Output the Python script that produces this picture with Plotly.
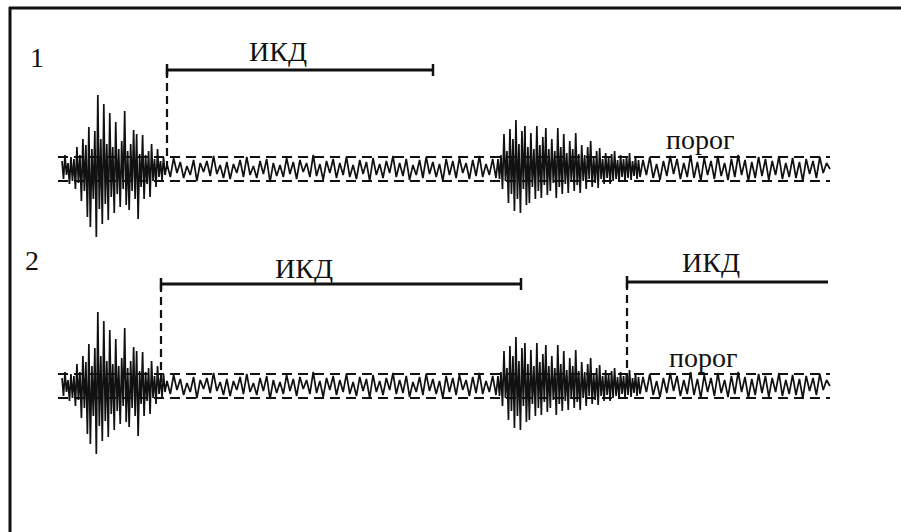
import plotly.graph_objects as go

# ---------------------------------------------------------------
# Recorded signal: time in ms, amplitude in µV relative to baseline.
# Bursts are given as per-oscillation peak (up) and trough (down)
# values; quiet stretches as successive turning points.
# ---------------------------------------------------------------
burst1_span = (62, 165)
burst1_up = [8, 14, 6, 12, 10, 22, 14, 30, 24, 42, 20, 38, 74, 30, 65, 25, 56, 22,
             47, 20, 28, 58, 18, 25, 39, 35, 15, 34, 14, 18, 25, 10, 20, 8, 12]
burst1_down = [-10, -6, -15, -12, -20, -14, -32, -22, -48, -58, -30, -68, -40, -55, -35,
               -51, -28, -44, -25, -38, -20, -36, -41, -22, -30, -50, -18, -30, -15, -28,
               -12, -18, -8, -11, -6]

quiet1_span = (167, 496)
quiet1 = [5, -8, 11, -4, 7, -9, 3, -6, 9, -12, 6, -3, 8, -7, 13, -5, 4, -9, 7, -10, 5,
          -4, 9, -8, 12, -6, 3, -9, 8, -5, 10, -13, 6, -7, 4, -8, 11, -5, 7, -10, 9, -3,
          6, -8, 14, -7, 5, -11, 8, -4, 10, -9, 6, -6, 12, -8, 4, -10, 9, -5, 7, -12, 11,
          -6, 5, -9, 8, -4, 13, -8, 6, -7, 10, -11, 4, -6, 9, -9, 12, -5, 7, -8, 5, -12,
          10, -6, 8, -9, 11, -4, 6, -10, 9, -7, 13, -8, 5, -6, 10, -9]

burst2_span = (498, 640)
burst2_up = [10, 14, 35, 18, 40, 30, 49, 25, 38, 43, 22, 36, 20, 43, 24, 32, 41, 20,
             30, 18, 41, 22, 35, 16, 28, 20, 36, 15, 24, 14, 22, 28, 12, 18, 21, 10,
             16, 12, 15, 18, 9, 14, 10, 13, 16, 8, 12, 9]
burst2_down = [-10, -20, -12, -34, -25, -42, -30, -44, -20, -36, -34, -18, -30, -22, -29,
               -16, -26, -22, -14, -29, -18, -25, -15, -24, -12, -22, -16, -24, -12, -20,
               -10, -18, -14, -19, -10, -15, -9, -15, -12, -10, -13, -8, -12, -9, -11,
               -7, -10, -8]

quiet2_span = (643, 830)
quiet2 = [9, -6, 12, -9, 5, -11, 8, -7, 13, -5, 10, -10, 6, -8, 14, -9, 7, -12, 11, -6,
          8, -10, 13, -7, 6, -11, 10, -8, 14, -6, 9, -12, 7, -9, 12, -7, 10, -11, 8, -6,
          13, -10, 6, -8, 11, -9, 7, -12, 10, -5, 8, -9, 12, -4, 6, 0]

threshold = 12          # µV, detection threshold (±)
threshold_span = (58, 830)

# Inter-burst intervals (ИКД) per record: start, end, closed end, label time
ikd_rec1 = [(167, 433, True, 278)]
ikd_rec2 = [(161, 521, True, 304), (627, 828, False, 711)]


def times(span, n):
    a, b = span
    return [a + (b - a) * i / (n - 1) for i in range(n)]


def interleave(up, down):
    out = []
    for u, d in zip(up, down):
        out += [u, d]
    return out


sig_t, sig_v = [], []
for span, vals in [(burst1_span, interleave(burst1_up, burst1_down)),
                   (quiet1_span, quiet1),
                   (burst2_span, interleave(burst2_up, burst2_down)),
                   (quiet2_span, quiet2)]:
    sig_t += times(span, len(vals))
    sig_v += vals

fig = go.Figure()
INK = "#111111"
SERIF = "Liberation Serif, Times New Roman, serif"
FONT = dict(family=SERIF, size=28, color=INK)

for ax in ("y", "y2"):
    fig.add_trace(go.Scatter(x=sig_t, y=sig_v, mode="lines", yaxis=ax,
                             line=dict(color=INK, width=1.7), hoverinfo="skip"))
    for lvl in (threshold, -threshold):
        fig.add_trace(go.Scatter(x=list(threshold_span), y=[lvl, lvl], mode="lines",
                                 yaxis=ax, hoverinfo="skip",
                                 line=dict(color=INK, width=2.2, dash="10px,6px")))

shapes = []
annotations = []


def add_interval(start, end, closed, label_x, yref, level, label_y):
    # onset marker: dashed drop line from the bar to the signal
    shapes.append(dict(type="line", xref="x", yref=yref, x0=start, x1=start,
                       y0=level, y1=4, line=dict(color=INK, width=2.2, dash="8px,5px")))
    shapes.append(dict(type="line", xref="x", yref=yref, x0=start, x1=end,
                       y0=level, y1=level, line=dict(color=INK, width=3)))
    shapes.append(dict(type="line", xref="x", yref=yref, x0=start, x1=start,
                       y0=level - 6, y1=level + 6, line=dict(color=INK, width=2.5)))
    if closed:
        shapes.append(dict(type="line", xref="x", yref=yref, x0=end, x1=end,
                           y0=level - 6, y1=level + 6, line=dict(color=INK, width=2.5)))
    annotations.append(dict(x=label_x, y=label_y, xref="x", yref=yref, text="ИКД",
                            showarrow=False, font=FONT))


add_interval(*ikd_rec1[0], "y", 99, 118)
add_interval(*ikd_rec2[0], "y2", 102, 118)
add_interval(*ikd_rec2[1], "y2", 104, 124)

annotations += [
    dict(x=37, y=112, xref="x", yref="y", text="1", showarrow=False, font=FONT),
    dict(x=32, y=126, xref="x", yref="y2", text="2", showarrow=False, font=FONT),
    dict(x=700, y=30, xref="x", yref="y", text="порог", showarrow=False, font=FONT),
    dict(x=703, y=29, xref="x", yref="y2", text="порог", showarrow=False, font=FONT),
]

# frame: top and left edges
shapes += [
    dict(type="line", xref="paper", yref="paper", x0=9 / 901, x1=1.0,
         y0=1 - 8 / 532, y1=1 - 8 / 532, line=dict(color=INK, width=3)),
    dict(type="line", xref="paper", yref="paper", x0=10 / 901, x1=10 / 901,
         y0=0, y1=1 - 7 / 532, line=dict(color=INK, width=3)),
]

# both records share the full height; each y axis puts its baseline
# at its own level (1 µV per pixel)
fig.update_layout(
    width=901, height=532,
    margin=dict(l=0, r=0, t=0, b=0),
    paper_bgcolor="white", plot_bgcolor="white",
    showlegend=False,
    xaxis=dict(range=[0, 901], visible=False, fixedrange=True),
    yaxis=dict(domain=[0, 1], range=[169 - 532, 169], visible=False, fixedrange=True),
    yaxis2=dict(domain=[0, 1], range=[386 - 532, 386], visible=False, anchor="x",
                overlaying="y", fixedrange=True),
    shapes=shapes,
    annotations=annotations,
)

fig.write_html("out.html", config={"displayModeBar": False})
